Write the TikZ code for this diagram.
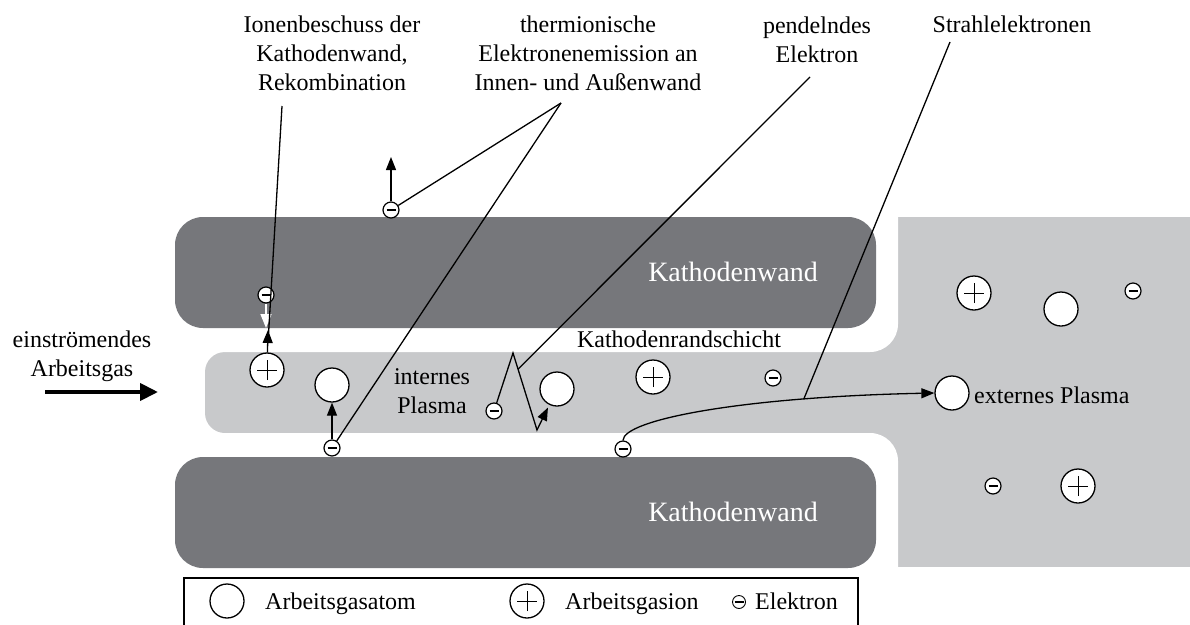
\documentclass[tikz,border=0pt]{standalone}
\usepackage{fontspec}
\setmainfont{Liberation Serif}
\usetikzlibrary{arrows.meta,calc}
\definecolor{wallc}{RGB}{118,119,123}
\definecolor{plasc}{RGB}{200,201,203}
\begin{document}
\begin{tikzpicture}[x=1pt,y=-1pt,
  txt/.style={font=\fontsize{24}{29}\selectfont, inner sep=0pt, align=center},
  wtxt/.style={font=\fontsize{28}{32}\selectfont, text=white, inner sep=0pt},
  atom/.style={circle, draw, fill=white, line width=1.3pt, minimum size=34pt, inner sep=0pt},
  ion/.style={atom, path picture={\draw[line width=0.9pt] ([xshift=-10pt]path picture bounding box.center) -- ([xshift=10pt]path picture bounding box.center) ([yshift=-10pt]path picture bounding box.center) -- ([yshift=10pt]path picture bounding box.center);}},
  elec/.style={circle, draw, fill=white, line width=1.2pt, minimum size=16pt, inner sep=0pt, path picture={\draw[line width=1.4pt] ([xshift=-4.5pt]path picture bounding box.center) -- ([xshift=4.5pt]path picture bounding box.center);}},
  lelec/.style={elec, minimum size=13pt, line width=0.9pt},
  lead/.style={line width=1.3pt},
  arr/.style={line width=1.3pt, -{Triangle[length=13pt,width=10pt]}},
]
\useasboundingbox (0,0) rectangle (1190,624);
% regions
\fill[plasc, rounded corners=20pt] (205,352) rectangle (1190,433);
\fill[plasc] (870,217) rectangle (1190,567);
\fill[white, rounded corners=28pt] (100,150) rectangle (898,352);
\fill[white, rounded corners=28pt] (100,433) rectangle (898,650);
\fill[wallc, rounded corners=28pt] (175,217) rectangle (876,328);
\fill[wallc, rounded corners=28pt] (175,457) rectangle (876,568);
% texts
\node[wtxt, anchor=base] (kw1) at (733,281) {Kathodenwand};
\node[wtxt, anchor=base] (kw2) at (733,521) {Kathodenwand};
\node[txt, anchor=base] (c1) at (332,90) {Ionenbeschuss der\\Kathodenwand,\\Rekombination};
\node[txt, anchor=base] (c2) at (588,90) {thermionische\\Elektronenemission an\\Innen- und Außenwand};
\node[txt, anchor=base] (c3) at (817,62) {pendelndes\\Elektron};
\node[txt, anchor=base] (c4) at (1012,32) {Strahlelektronen};
\node[txt, anchor=base] (c5) at (82,376) {einströmendes\\Arbeitsgas};
\node[txt, anchor=base] (c6) at (679,347) {Kathodenrandschicht};
\node[txt, anchor=base] (c7) at (432,413) {internes\\Plasma};
\node[txt, anchor=base west] (c8) at (974,403) {externes Plasma};
% particles
\node[ion] (i1) at (267,370) {};
\node[atom] (a1) at (332,385) {};
\node[atom] (a2) at (557,389) {};
\node[ion] (i2) at (653,377) {};
\node[elec] (e4) at (773,378) {};
\node[ion] (i3) at (974,293) {};
\node[atom] (a3) at (1061,309) {};
\node[elec] (e5) at (1133,291) {};
\node[atom] (a4) at (952,393) {};
\node[elec] (e6) at (993,486) {};
\node[ion] (i4) at (1078,486) {};
\node[elec] (e0) at (266,295) {};
\node[elec] (e1) at (391,210) {};
\node[elec] (e2) at (332,448) {};
\node[elec] (e3) at (494,411) {};
\node[elec] (e7) at (623,449) {};
% coordinates
\coordinate (w1) at (266,328);
\coordinate (b1) at (268,330);
\coordinate (l1s) at (282,106);
\coordinate (l1e) at (268,343);
\coordinate (t1) at (391,157);
\coordinate (l2s) at (561,103);
\coordinate (zp) at (513,353);
\coordinate (zb) at (537,430);
\coordinate (l3s) at (810,77);
\coordinate (l3e) at ($(zp)!0.21!(zb)$);
\coordinate (l4s) at (950,42);
\coordinate (g1) at (45,392);
\coordinate (g2) at (158,392);
% arrows and leaders
\draw[white, line width=1.5pt, -{Triangle[length=14pt,width=11pt]}] (e0) -- (w1);
\draw[arr] (i1) -- (b1);
\draw[lead] (l1s) -- (l1e);
\draw[arr] (e1) -- (t1);
\draw[lead] (l2s) -- (e1);
\draw[lead] (l2s) -- (e2);
\draw[arr] (e2) -- (a1);
\draw[arr, shorten >=3pt] (e3) -- (zp) -- (zb) -- (a2);
\draw[lead] (l3s) -- (l3e);
\draw[arr] (e7.north) .. controls (623,420) and (740,397) .. (a4.west) coordinate[pos=0.75] (l4e);
\draw[lead] (l4s) -- (l4e);
\draw[line width=4pt, -{Triangle[length=18pt,width=17pt]}] (g1) -- (g2);
% legend
\draw[line width=1.1pt] (184,626) |- (858,578) -- (858,626);
\node[atom] (la) at (227,601) {};
\node[txt, anchor=base west] (lt1) at (265,609) {Arbeitsgasatom};
\node[ion] (li) at (527,601) {};
\node[txt, anchor=base west] (lt2) at (565,609) {Arbeitsgasion};
\node[lelec] (le) at (739,602) {};
\node[txt, anchor=base west] (lt3) at (755,609) {Elektron};
\end{tikzpicture}
\end{document}
